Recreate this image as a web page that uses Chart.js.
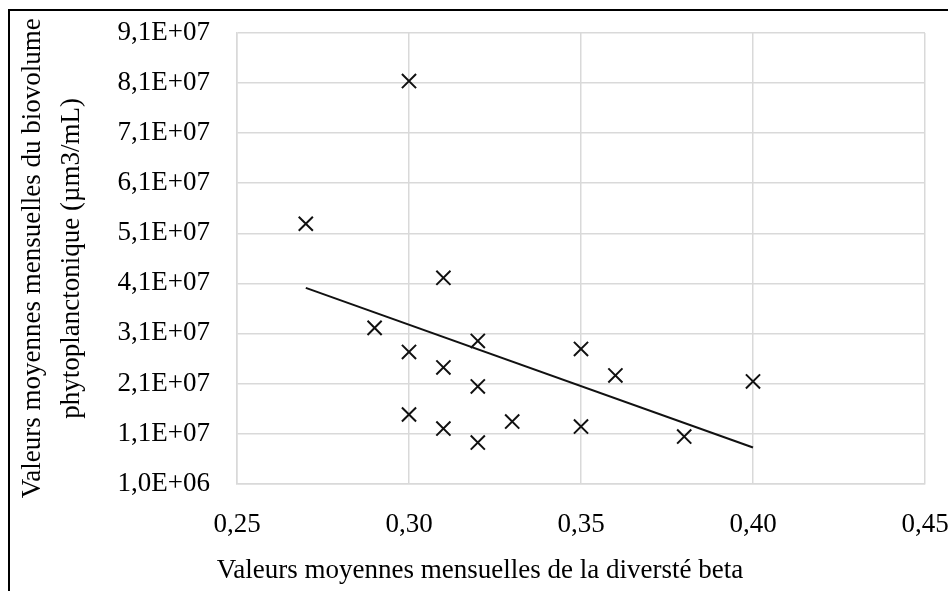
<!DOCTYPE html>
<html>
<head>
<meta charset="utf-8">
<script src="https://cdn.jsdelivr.net/npm/chart.js@4"></script>
<style>
  html, body { margin: 0; padding: 0; background: #fff; }
  #wrap { position: relative; width: 948px; height: 591px; overflow: hidden; }
  #frame { position: absolute; left: 8px; top: 9px; width: 1000px; height: 700px;
           border-left: 2px solid #000; border-top: 2px solid #000; }
  #chart { position: absolute; left: 0; top: 0; }
</style>
</head>
<body>
<div id="wrap">
  <div id="frame"></div>
  <canvas id="chart" width="948" height="591"></canvas>
</div>
<script>
// beta diversity (x) vs phytoplankton biovolume (y), monthly means
const betaValues = [0.27, 0.30, 0.31, 0.29, 0.30, 0.31, 0.32, 0.32, 0.35, 0.36, 0.40, 0.30, 0.31, 0.32, 0.33, 0.35, 0.38];
const biovolumeValues = [5.29e7, 8.14e7, 4.21e7, 3.21e7, 2.73e7, 2.42e7, 2.95e7, 2.04e7, 2.79e7, 2.26e7, 2.14e7, 1.48e7, 1.20e7, 9.2e6, 1.34e7, 1.24e7, 1.04e7];
// linear trend line end points
const trendX = [0.27, 0.40];
const trendY = [4.01e7, 8.2e6];
const xTicks = [0.25, 0.30, 0.35, 0.40, 0.45];
const yTicks = [1e6, 1.1e7, 2.1e7, 3.1e7, 4.1e7, 5.1e7, 6.1e7, 7.1e7, 8.1e7, 9.1e7];

const SERIF = "'Liberation Serif', 'Times New Roman', serif";
const GRID = '#d9d9d9';
const FONT_SIZE = 27;

const fmtY = (v) => {
  const [m, e] = Number(v).toExponential(1).split('e');
  const exp = Math.abs(+e).toString().padStart(2, '0');
  return m.replace('.', ',') + 'E' + (+e < 0 ? '-' : '+') + exp;
};
const fmtX = (v) => Number(v).toFixed(2).replace('.', ',');

const ctx = document.getElementById('chart').getContext('2d');
new Chart(ctx, {
  type: 'scatter',
  data: {
    datasets: [
      {
        data: betaValues.map((x, i) => ({ x, y: biovolumeValues[i] })),
        pointStyle: 'crossRot',
        pointRadius: 10,
        pointBorderWidth: 2,
        borderColor: '#111',
        backgroundColor: '#111',
      },
      {
        data: trendX.map((x, i) => ({ x, y: trendY[i] })),
        showLine: true,
        pointRadius: 0,
        borderColor: '#111',
        borderWidth: 2,
      },
    ],
  },
  options: {
    responsive: false,
    animation: false,
    layout: { autoPadding: false, padding: { left: 35, right: 23, top: 33, bottom: 4 } },
    plugins: {
      legend: { display: false },
      tooltip: { enabled: false },
      title: {
        display: true,
        position: 'bottom',
        text: 'Valeurs moyennes mensuelles de la diversté beta',
        color: '#000',
        font: { family: SERIF, size: FONT_SIZE, weight: 'normal', lineHeight: 1.2 },
        padding: { top: 0, bottom: 0 },
      },
    },
    scales: {
      x: {
        type: 'linear',
        min: 0.25,
        max: 0.45,
        afterBuildTicks: (scale) => { scale.ticks = xTicks.map((value) => ({ value })); },
        afterFit: (scale) => {
          scale.height = 71;
          scale.paddingLeft = 0;
          scale.paddingRight = 0;
        },
        grid: { color: GRID, lineWidth: 1.5, drawTicks: false },
        border: { color: GRID, width: 1.5 },
        ticks: {
          padding: 25,
          color: '#000',
          maxRotation: 0,
          font: { family: SERIF, size: FONT_SIZE },
          callback: fmtX,
        },
      },
      y: {
        type: 'linear',
        min: 1e6,
        max: 9.1e7,
        afterBuildTicks: (scale) => { scale.ticks = yTicks.map((value) => ({ value })); },
        afterFit: (scale) => {
          scale.width = 202;
          scale.paddingTop = 0;
          scale.paddingBottom = 0;
        },
        grid: { color: GRID, lineWidth: 1.5, drawTicks: false },
        border: { color: GRID, width: 1.5 },
        ticks: {
          padding: 27,
          color: '#000',
          font: { family: SERIF, size: FONT_SIZE },
          callback: fmtY,
        },
        title: {
          display: true,
          text: ['Valeurs moyennes mensuelles du biovolume', 'phytoplanctonique (µm3/mL)'],
          color: '#000',
          font: { family: SERIF, size: FONT_SIZE, lineHeight: 1.45 },
          padding: { top: -22, bottom: 0 },
        },
      },
    },
  },
});
</script>
</body>
</html>
